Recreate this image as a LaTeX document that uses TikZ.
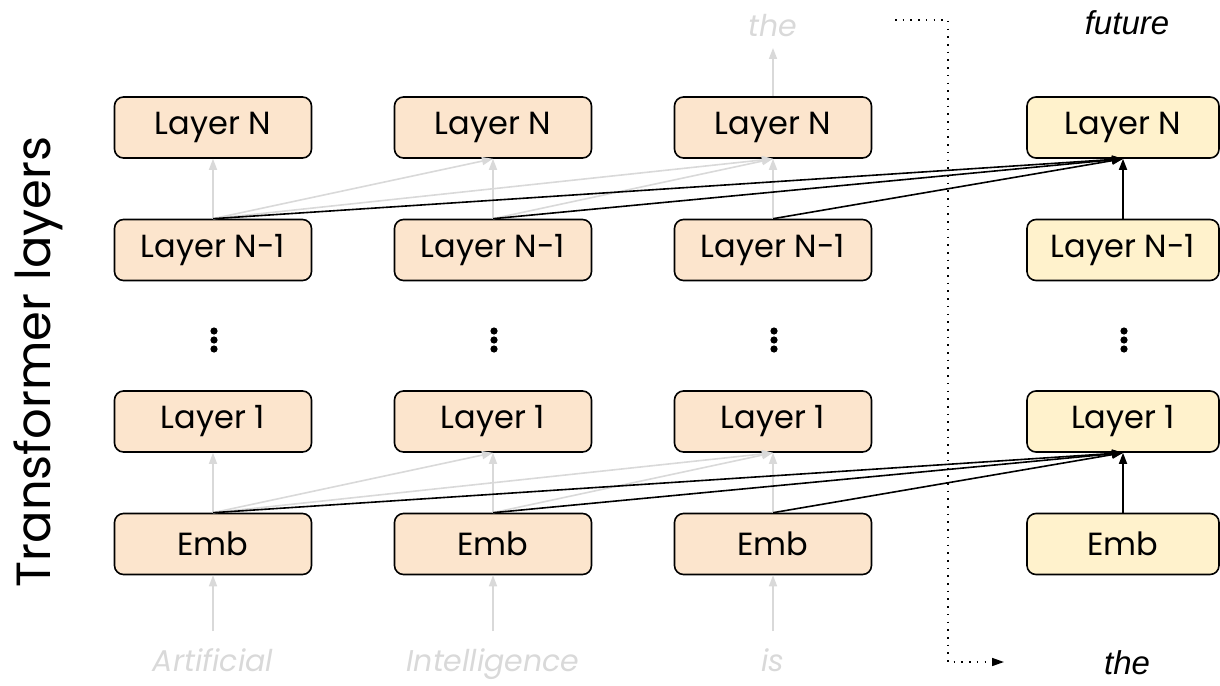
\documentclass[tikz,border=0pt]{standalone}
\usepackage{fontspec}
\setmainfont{Poppins}
\newfontfamily\arialfont{Liberation Sans}
\usetikzlibrary{arrows.meta}
\definecolor{peach}{HTML}{FCE5CD}
\definecolor{cream}{HTML}{FFF2CC}
\definecolor{faint}{HTML}{D9D9D9}
\tikzset{
  layerbox/.style={draw=black, line width=1.6pt, rounded corners=9pt, fill=peach,
    minimum width=197pt, minimum height=61pt, inner sep=0pt,
    font=\fontsize{32}{36}\selectfont},
  futurebox/.style={layerbox, fill=cream, minimum width=192pt},
  pastarrow/.style={draw=faint, line width=1.6pt, -{Triangle[length=11pt,width=8pt]}},
  attnarrow/.style={draw=black, line width=1.6pt, -{Triangle[length=11pt,width=8pt]}},
  graytoken/.style={text=faint, anchor=base, inner sep=0pt, font=\fontsize{30}{34}\selectfont\itshape},
  blacktoken/.style={text=black, anchor=base, inner sep=0pt, font=\arialfont\fontsize{33}{38}\selectfont\itshape},
}
\begin{document}
\begin{tikzpicture}[x=1pt,y=-1pt]
\useasboundingbox (0,0) rectangle (1220,685);

% side label
\node[rotate=90, font=\fontsize{48}{54}\selectfont] (side) at (38,362) {Transformer layers};

% columns of layers: three past tokens and the token being predicted
\foreach \c/\x in {a/213, b/493, c/773}{
  \node[layerbox] (\c N)  at (\x,127.5) {Layer N};
  \node[layerbox] (\c M)  at (\x,250)   {Layer N-1};
  \node[layerbox] (\c one) at (\x,421.5) {Layer 1};
  \node[layerbox] (\c emb) at (\x,544)   {Emb};
  \foreach \yy in {331,340,349} \fill (\x+1,\yy) circle (3.6pt);
}
\node[futurebox] (dN)  at (1123,127.5) {Layer N};
\node[futurebox] (dM)  at (1123,250)   {Layer N-1};
\node[futurebox] (done) at (1123,421.5) {Layer 1};
\node[futurebox] (demb) at (1123,544)   {Emb};
\foreach \yy in {331,340,349} \fill (1124,\yy) circle (3.6pt);

% input tokens
\node[graytoken] (tA) at (213,671) {Artificial};
\node[graytoken] (tB) at (493,671) {Intelligence};
\node[graytoken] (tC) at (773,671) {is};
\node[graytoken] (tout) at (773,37) {the};
\node[blacktoken] (tD) at (1127,674) {the};
\node[blacktoken] (tF) at (1127,35) {future};

% token inputs into embeddings
\coordinate (inA) at (213,631);
\coordinate (inB) at (493,631);
\coordinate (inC) at (773,631);
\draw[pastarrow] (inA) -- (aemb.south);
\draw[pastarrow] (inB) -- (bemb.south);
\draw[pastarrow] (inC) -- (cemb.south);
\coordinate (outC) at (773,48);
\draw[pastarrow] (cN.north) -- (outC);

% attention among past positions (gray)
\draw[pastarrow] (aM.north) -- (aN.south);
\draw[pastarrow] (aM.north) -- (bN.south);
\draw[pastarrow] (aM.north) -- (cN.south);
\draw[pastarrow] (bM.north) -- (bN.south);
\draw[pastarrow] (bM.north) -- (cN.south);
\draw[pastarrow] (cM.north) -- (cN.south);
\draw[pastarrow] (aemb.north) -- (aone.south);
\draw[pastarrow] (aemb.north) -- (bone.south);
\draw[pastarrow] (aemb.north) -- (cone.south);
\draw[pastarrow] (bemb.north) -- (bone.south);
\draw[pastarrow] (bemb.north) -- (cone.south);
\draw[pastarrow] (cemb.north) -- (cone.south);

% attention into the new position (black)
\draw[attnarrow] (aM.north) -- (dN.south);
\draw[attnarrow] (bM.north) -- (dN.south);
\draw[attnarrow] (cM.north) -- (dN.south);
\draw[attnarrow] (dM.north) -- (dN.south);
\draw[attnarrow] (aemb.north) -- (done.south);
\draw[attnarrow] (bemb.north) -- (done.south);
\draw[attnarrow] (cemb.north) -- (done.south);
\draw[attnarrow] (demb.north) -- (done.south);

% feedback of the predicted token
\coordinate (fbA) at (895,20);
\coordinate (fbB) at (948,20);
\coordinate (fbC) at (948,662);
\coordinate (fbD) at (1004,662);
\draw[line width=1.6pt, dash pattern=on 1.6pt off 6.1pt, -{Triangle[length=12pt,width=8pt]}]
  (fbA) -- (fbB) -- (fbC) -- (fbD);
\end{tikzpicture}
\end{document}
